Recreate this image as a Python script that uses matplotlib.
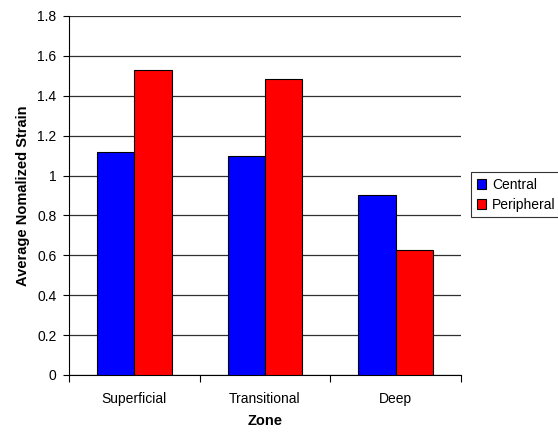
import numpy as np
import matplotlib
matplotlib.use("Agg")
import matplotlib.pyplot as plt

plt.rcParams['font.family'] = ['Liberation Sans', 'DejaVu Sans']

zones = ['Superficial', 'Transitional', 'Deep']
central = [1.12, 1.10, 0.90]
peripheral = [1.53, 1.485, 0.625]

fig = plt.figure(figsize=(5.58, 4.32), dpi=100)
ax = fig.add_axes([69/558, 1 - 375/432, (461-69)/558, (375-16)/432])

x = np.arange(len(zones))
w = 0.286
ax.bar(x - w/2, central, w, color='#0000ff', edgecolor='black', linewidth=0.8,
       label='Central', zorder=3)
ax.bar(x + w/2, peripheral, w, color='#ff0000', edgecolor='black', linewidth=0.8,
       label='Peripheral', zorder=3)

ax.set_xlim(-0.5, 2.5)
ax.set_ylim(0, 1.8)
ax.set_yticks(np.arange(0, 1.81, 0.2))
ax.set_yticklabels(['0', '0.2', '0.4', '0.6', '0.8', '1', '1.2', '1.4', '1.6', '1.8'])
ax.yaxis.grid(True, color='#303030', linewidth=0.9, zorder=0)

ax.set_xticks(x)
ax.set_xticklabels(zones)
ax.set_xticks([-0.5, 0.5, 1.5, 2.5], minor=True)
ax.tick_params(axis='x', which='major', length=0, pad=12, labelsize=10)
ax.tick_params(axis='x', which='minor', length=5, direction='out', width=0.8)
ax.tick_params(axis='y', length=4, direction='out', width=0.8, labelsize=10, pad=5)

for s in ['top', 'right']:
    ax.spines[s].set_visible(False)
ax.spines['left'].set_linewidth(0.8)
ax.spines['bottom'].set_linewidth(0.8)

ax.set_xlabel('Zone', fontsize=10.5, fontweight='bold', labelpad=6)
ax.set_ylabel('Average Nomalized Strain', fontsize=10.5, fontweight='bold', labelpad=5)

leg = fig.legend(loc='upper left', bbox_to_anchor=(471/558, 1 - 172/432),
                 fontsize=10, frameon=True, fancybox=False, handlelength=0.7,
                 handleheight=0.7, handletextpad=0.4, borderpad=0.4,
                 labelspacing=0.45, borderaxespad=0)
leg.get_frame().set_edgecolor('black')
leg.get_frame().set_linewidth(0.8)

fig.savefig('out.png', dpi=100)
